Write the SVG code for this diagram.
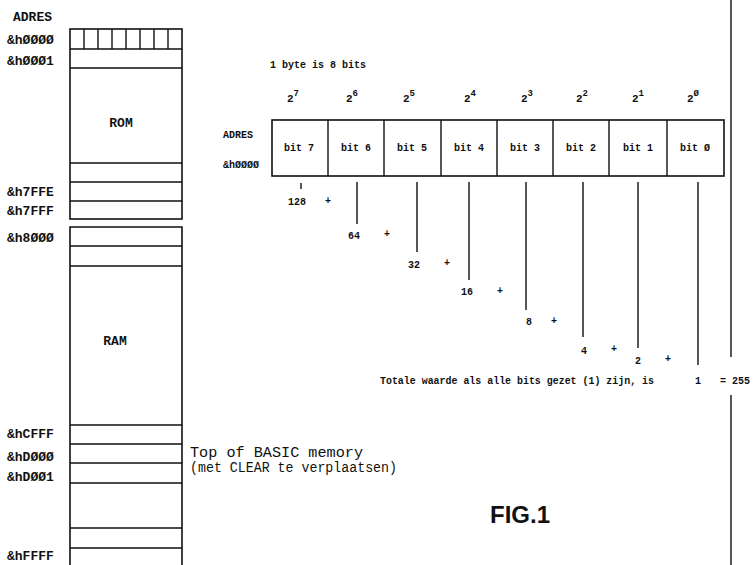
<svg xmlns="http://www.w3.org/2000/svg" width="754" height="565" viewBox="0 0 754 565">
<style>
.bg{fill:#fff}
.box{fill:none;stroke:#111;stroke-width:1.6}
.ln{stroke:#111;stroke-width:1.4;fill:none}
.lbl{font-family:"Liberation Mono",monospace;font-weight:bold;font-size:13px;fill:#111}
.sm{font-family:"Liberation Mono",monospace;font-weight:bold;font-size:10px;fill:#111}
.pw{font-family:"Liberation Mono",monospace;font-weight:bold;font-size:11px;fill:#111;text-anchor:middle}
.note{font-family:"Liberation Mono",monospace;font-size:14px;fill:#111}
.mid{text-anchor:middle}
.fig{font-family:"Liberation Sans",Arial,sans-serif;font-weight:bold;font-size:24px;fill:#111}
</style>
<rect class="bg" x="0" y="0" width="754" height="565"/>

<g id="address-labels">
<text class="lbl" x="13" y="21">ADRES</text>
<text class="lbl" x="7" y="44">&amp;hØØØØ</text>
<text class="lbl" x="7" y="65">&amp;hØØØ1</text>
<text class="lbl" x="7" y="196">&amp;h7FFE</text>
<text class="lbl" x="7" y="215">&amp;h7FFF</text>
<text class="lbl" x="7" y="242">&amp;h8ØØØ</text>
<text class="lbl" x="7" y="438">&amp;hCFFF</text>
<text class="lbl" x="7" y="461">&amp;hDØØØ</text>
<text class="lbl" x="7" y="481">&amp;hDØØ1</text>
<text class="lbl" x="7" y="560">&amp;hFFFF</text>
</g>

<g id="rom">
<rect class="box" x="70" y="29" width="112" height="190"/>
<path class="ln" d="M70 49H182M70 68H182M70 163H182M70 182H182M70 201H182"/>
<path class="ln" d="M84 29V49M98 29V49M112 29V49M126 29V49M140 29V49M154 29V49M168 29V49"/>
<text class="lbl mid" x="121" y="127">ROM</text>
</g>

<g id="ram">
<path class="box" d="M70 566V227H182V566"/>
<path class="ln" d="M70 246H182M70 266H182M70 425H182M70 444H182M70 463H182M70 483H182M70 528H182M70 548H182"/>
<text class="lbl mid" x="115" y="345">RAM</text>
</g>

<g id="basic-note">
<text class="note" x="190" y="457" textLength="173" lengthAdjust="spacingAndGlyphs">Top of BASIC memory</text>
<text class="note" x="190" y="472" textLength="207" lengthAdjust="spacingAndGlyphs">(met CLEAR te verplaatsen)</text>
</g>

<g id="byte-title">
<text class="sm" x="270" y="68">1 byte is 8 bits</text>
</g>

<g id="powers">
<text class="pw" x="293" y="102">2<tspan dy="-6" font-size="9">7</tspan></text>
<text class="pw" x="352" y="102">2<tspan dy="-6" font-size="9">6</tspan></text>
<text class="pw" x="409" y="102">2<tspan dy="-6" font-size="9">5</tspan></text>
<text class="pw" x="470" y="102">2<tspan dy="-6" font-size="9">4</tspan></text>
<text class="pw" x="527" y="102">2<tspan dy="-6" font-size="9">3</tspan></text>
<text class="pw" x="582" y="102">2<tspan dy="-6" font-size="9">2</tspan></text>
<text class="pw" x="638" y="102">2<tspan dy="-6" font-size="9">1</tspan></text>
<text class="pw" x="693" y="102">2<tspan dy="-6" font-size="9">Ø</tspan></text>
</g>

<g id="byte-address">
<text class="sm" x="223" y="138">ADRES</text>
<text class="sm" x="223" y="168" font-size="9">&amp;hØØØØ</text>
</g>

<g id="byte">
<rect class="box" x="272" y="120" width="452" height="56"/>
<path class="ln" d="M328 120V176M384 120V176M441 120V176M497 120V176M553 120V176M609 120V176M667 120V176"/>
<text class="sm mid" x="299" y="151">bit 7</text>
<text class="sm mid" x="356" y="151">bit 6</text>
<text class="sm mid" x="412" y="151">bit 5</text>
<text class="sm mid" x="469" y="151">bit 4</text>
<text class="sm mid" x="525" y="151">bit 3</text>
<text class="sm mid" x="581" y="151">bit 2</text>
<text class="sm mid" x="638" y="151">bit 1</text>
<text class="sm mid" x="695" y="151">bit Ø</text>
</g>

<g id="connectors">
<path class="ln" d="M301 183V189"/>
<path class="ln" d="M357 182V224"/>
<path class="ln" d="M417 182V252"/>
<path class="ln" d="M469 182V280"/>
<path class="ln" d="M526 182V310"/>
<path class="ln" d="M583 182V337"/>
<path class="ln" d="M638 182V348"/>
<path class="ln" d="M698 182V365"/>
<path class="ln" d="M731 0V357M731 395V565"/>
</g>

<g id="values">
<text class="sm mid" x="297" y="205">128</text>
<text class="sm mid" x="354" y="239">64</text>
<text class="sm mid" x="414" y="268">32</text>
<text class="sm mid" x="467" y="295">16</text>
<text class="sm mid" x="529" y="325">8</text>
<text class="sm mid" x="584" y="354">4</text>
<text class="sm mid" x="638" y="364">2</text>
<text class="sm mid" x="698" y="384">1</text>
<text class="sm mid" x="328" y="204">+</text>
<text class="sm mid" x="387" y="237">+</text>
<text class="sm mid" x="447" y="266">+</text>
<text class="sm mid" x="500" y="294">+</text>
<text class="sm mid" x="554" y="324">+</text>
<text class="sm mid" x="614" y="352">+</text>
<text class="sm mid" x="668" y="362">+</text>
</g>

<g id="total">
<text class="sm" x="380" y="384" textLength="274" lengthAdjust="spacingAndGlyphs">Totale waarde als alle bits gezet (1) zijn, is</text>
<text class="sm" x="720" y="384">= 255</text>
</g>

<g id="fig-label">
<text class="fig" x="490" y="523">FIG.1</text>
</g>
</svg>
